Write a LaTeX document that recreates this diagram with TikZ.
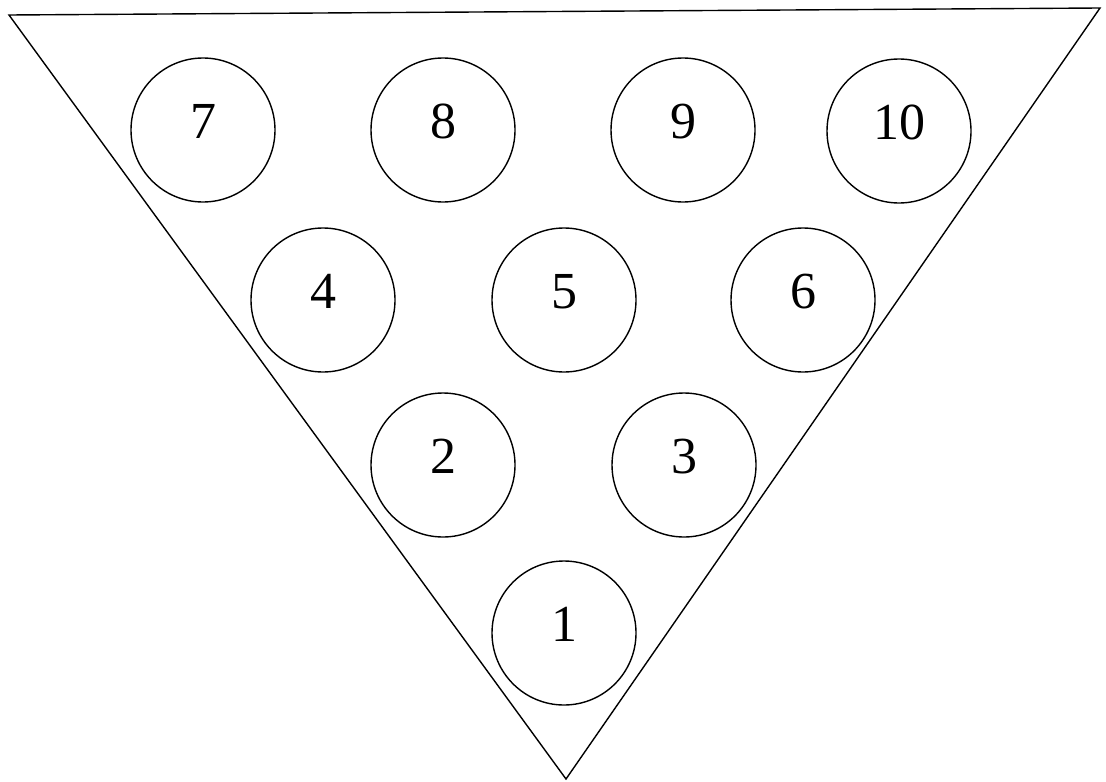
\documentclass[tikz,border=0pt]{standalone}
\usepackage{fontspec}
\setmainfont{Liberation Serif}

\begin{document}
\begin{tikzpicture}[x=0.5pt,y=-0.5pt,
  ball/.style={draw, circle, line width=0.7pt, minimum size=72pt, inner sep=0pt,
    text depth=9pt, font=\fontsize{26}{30}\selectfont}]
\useasboundingbox (0,0) rectangle (1106,781);

\coordinate (tl) at (9,15);
\coordinate (tr) at (1100,8);
\coordinate (bt) at (566,779);

\draw[line width=0.7pt] (tl) -- (tr) -- (bt) -- cycle;

\node[ball] (b7) at (203,130) {7};
\node[ball] (b8) at (443,130) {8};
\node[ball] (b9) at (683,130) {9};
\node[ball] (b10) at (899,131) {10};

\node[ball] (b4) at (323,300) {4};
\node[ball] (b5) at (564,300) {5};
\node[ball] (b6) at (803,300) {6};

\node[ball] (b2) at (443,465) {2};
\node[ball] (b3) at (684,465) {3};

\node[ball] (b1) at (564,633) {1};

\end{tikzpicture}
\end{document}
